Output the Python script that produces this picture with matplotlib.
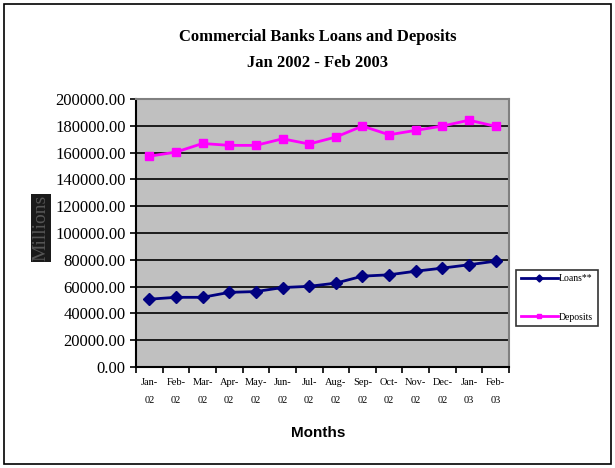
import matplotlib.pyplot as plt
import numpy as np
from matplotlib.patches import Rectangle

# --- Data ---
months = ['Jan-\n02', 'Feb-\n02', 'Mar-\n02', 'Apr-\n02', 'May-\n02', 'Jun-\n02', 'Jul-\n02',
          'Aug-\n02', 'Sep-\n02', 'Oct-\n02', 'Nov-\n02', 'Dec-\n02', 'Jan-\n03', 'Feb-\n03']
loans = [50600, 52000, 52000, 55700, 56300, 59300, 60200,
         62600, 67800, 68800, 71500, 73800, 76300, 79000]
deposits = [157300, 160400, 166800, 165400, 165400, 170300, 166400,
            171600, 179800, 173300, 176600, 179800, 184200, 179600]

x = np.arange(len(months))

fig = plt.figure(figsize=(6.15, 4.68), dpi=100)
ax = fig.add_axes([136 / 615, 1 - 367 / 468, (509 - 136) / 615, (367 - 99) / 468])

# outer chart border
fig.patches.append(Rectangle((4 / 615, 4 / 468), 607 / 615, 460 / 468, transform=fig.transFigure,
                             fill=False, edgecolor='black', linewidth=1.2))

ax.set_facecolor('#C0C0C0')
ax.plot(x, loans, color='#000080', marker='D', markersize=6, linewidth=2, label='Loans**')
ax.plot(x, deposits, color='#FF00FF', marker='s', markersize=6, linewidth=2,
        markeredgecolor='#FF00FF', markerfacecolor='#FF00FF', label='Deposits')

ax.set_xlim(-0.5, len(months) - 0.5)
ax.set_ylim(0, 200000)
ax.set_yticks(np.arange(0, 200001, 20000))
ax.set_yticklabels(['%.2f' % v for v in np.arange(0, 200001, 20000)],
                   fontfamily='Liberation Serif', fontsize=12)
ax.yaxis.grid(True, color='black', linewidth=1.2)
ax.set_axisbelow(True)

ax.set_xticks(x)
ax.set_xticklabels(months, fontfamily='Liberation Serif', fontsize=7.5, linespacing=2.2)
ax.set_xticks(np.arange(-0.5, len(months), 1), minor=True)
ax.tick_params(axis='x', which='major', length=0, pad=8)
ax.tick_params(axis='x', which='minor', length=4, width=1.2, direction='out')
ax.tick_params(axis='y', length=4, width=1.2, direction='out')

for side in ['top', 'right']:
    ax.spines[side].set_color('#808080')
    ax.spines[side].set_linewidth(1.5)
for side in ['left', 'bottom']:
    ax.spines[side].set_color('black')
    ax.spines[side].set_linewidth(1.5)

fig.text(318 / 615, 1 - 37 / 468, 'Commercial Banks Loans and Deposits', ha='center', va='center',
         fontfamily='Liberation Serif', fontweight='bold', fontsize=12)
fig.text(318 / 615, 1 - 63 / 468, 'Jan 2002 - Feb 2003', ha='center', va='center',
         fontfamily='Liberation Serif', fontweight='bold', fontsize=12)

fig.text(318 / 615, 1 - 433 / 468, 'Months', ha='center', va='center',
         fontfamily='Liberation Sans', fontweight='bold', fontsize=11)

fig.text(41 / 615, 1 - 228 / 468, 'Millions', ha='center', va='center', rotation=90,
         fontfamily='Liberation Serif', fontsize=14, color='#555555',
         bbox=dict(facecolor='#1a1a1a', edgecolor='none', pad=1.0))

leg = ax.legend(loc='center left', bbox_to_anchor=(516 / 615, 1 - 298 / 468),
                bbox_transform=fig.transFigure, frameon=True, fancybox=False,
                prop={'family': 'Liberation Serif', 'size': 7},
                handlelength=3.8, handletextpad=0.1, labelspacing=3.0, borderpad=0.5,
                borderaxespad=0, markerscale=0.6)
leg.get_frame().set_edgecolor('black')
leg.get_frame().set_linewidth(1.2)

plt.savefig('out.png', dpi=100)
